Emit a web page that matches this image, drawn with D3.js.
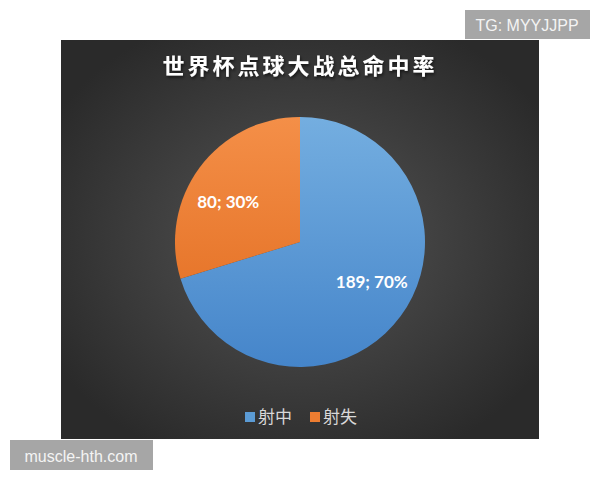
<!DOCTYPE html>
<meta charset="utf-8">
<html lang="zh">
<head>
<style>
  body { margin: 0; background: #ffffff; }
  .mark { font-family: "Liberation Sans", Arial, sans-serif; font-size: 16px; fill: #f4f4f4; }
</style>
</head>
<body>
<div id="chart"></div>
<script src="https://d3js.org/d3.v7.min.js"></script>
<script type="text/javascript">
    // data
    var categories = ["射中", "射失"];
    var counts = [189, 80];
    var percents = ["70%", "30%"];
    var title = "世界杯点球大战总命中率";

    var W = 600, H = 480;
    var panel = {x: 61, y: 40, w: 478, h: 399};
    var cx = 300, cy = 242, r = 125;

    var color = d3.scaleOrdinal()
        .domain(categories)
        .range(["#5b9bd5", "#ed7d31"]);

    var svg = d3.select("#chart")
      .append("svg")
        .attr("width", W)
        .attr("height", H);

    var defs = svg.append("defs");

    // panel background, dark with a lighter middle
    var bg = defs.append("radialGradient")
        .attr("id", "bg")
        .attr("cx", "50%").attr("cy", "50%").attr("r", "60%");
    bg.append("stop").attr("offset", "0%").attr("stop-color", "#555555");
    bg.append("stop").attr("offset", "100%").attr("stop-color", "#2a2a2a");

    // slice shading: lighter at the top, darker at the bottom
    // (coordinates are in the pie group's space, centred on 0,0)
    var shades = {"射中": ["#74aee0", "#4585ca"], "射失": ["#f48f48", "#e0691c"]};
    categories.forEach(function (c, i) {
      var g = defs.append("linearGradient")
          .attr("id", "fill" + i)
          .attr("gradientUnits", "userSpaceOnUse")
          .attr("x1", 0).attr("y1", -r)
          .attr("x2", 0).attr("y2", r);
      g.append("stop").attr("offset", "0%").attr("stop-color", shades[c][0]);
      g.append("stop").attr("offset", "100%").attr("stop-color", shades[c][1]);
    });

    var shadow = defs.append("filter").attr("id", "shadow")
        .attr("x", "-10%").attr("y", "-10%").attr("width", "130%").attr("height", "130%");
    shadow.append("feDropShadow")
        .attr("dx", 1).attr("dy", 2).attr("stdDeviation", 1.5)
        .attr("flood-color", "#000").attr("flood-opacity", 0.6);

    svg.append("rect")
        .attr("x", panel.x).attr("y", panel.y)
        .attr("width", panel.w).attr("height", panel.h)
        .attr("fill", "url(#bg)");

    // title
    svg.append("text")
        .attr("x", cx)
        .attr("y", 74)
        .attr("text-anchor", "middle")
        .attr("font-family", "'Noto Sans CJK SC', sans-serif")
        .attr("font-weight", "bold")
        .attr("font-size", 22)
        .attr("letter-spacing", 3)
        .attr("fill", "#ffffff")
        .attr("filter", "url(#shadow)")
        .text(title);

    // pie, first slice starts at 12 o'clock going clockwise
    var data = categories.map(function (c, i) {
      return {name: c, value: counts[i], pct: percents[i], i: i};
    });

    var pie = d3.pie()
        .sort(null)
        .value(function (d) { return d.value; });

    var arc = d3.arc().innerRadius(0).outerRadius(r);
    var labelArc = d3.arc().innerRadius(r * 0.68).outerRadius(r * 0.68);

    var g = svg.append("g")
        .attr("transform", "translate(" + cx + "," + cy + ")");

    g.selectAll("path")
      .data(pie(data))
      .enter()
      .append("path")
        .attr("d", arc)
        .attr("fill", function (d) { return "url(#fill" + d.data.i + ")"; })
        .attr("stroke", "none");

    g.selectAll("text.lbl")
      .data(pie(data))
      .enter()
      .append("text")
        .attr("class", "lbl")
        .attr("transform", function (d) {
          var p = labelArc.centroid(d);
          // nudge toward the horizontal like the original placement
          return "translate(" + (p[0] * 1.05) + "," + (p[1] * 0.8) + ")";
        })
        .attr("text-anchor", "middle")
        .attr("dy", "0.35em")
        .attr("font-family", "Lato, 'Open Sans', sans-serif")
        .attr("font-weight", "bold")
        .attr("font-size", 17)
        .attr("fill", "#ffffff")
        .text(function (d) { return d.data.value + "; " + d.data.pct; });

    // legend
    var legendX = [245, 310];
    var legend = svg.append("g");
    var item = legend.selectAll("g")
      .data(data)
      .enter()
      .append("g")
        .attr("transform", function (d, i) { return "translate(" + legendX[i] + ",412)"; });
    item.append("rect")
        .attr("width", 10).attr("height", 10)
        .attr("fill", function (d) { return color(d.name); });
    item.append("text")
        .attr("x", 13)
        .attr("y", 5)
        .attr("dy", "0.36em")
        .attr("font-family", "'Noto Sans CJK SC', sans-serif")
        .attr("font-size", 17)
        .attr("fill", "#d9d9d9")
        .text(function (d) { return d.name; });

    // watermarks
    svg.append("rect")
        .attr("x", 465).attr("y", 10).attr("width", 125).attr("height", 29)
        .attr("fill", "#a6a6a6");
    svg.append("text")
        .attr("class", "mark")
        .attr("x", 527).attr("y", 25).attr("dy", "0.35em")
        .attr("text-anchor", "middle")
        .text("TG: MYYJJPP");

    svg.append("rect")
        .attr("x", 10).attr("y", 440).attr("width", 143).attr("height", 30)
        .attr("fill", "#a6a6a6");
    svg.append("text")
        .attr("class", "mark")
        .attr("x", 81).attr("y", 456).attr("dy", "0.35em")
        .attr("text-anchor", "middle")
        .text("muscle-hth.com");
</script>
</body>
</html>
